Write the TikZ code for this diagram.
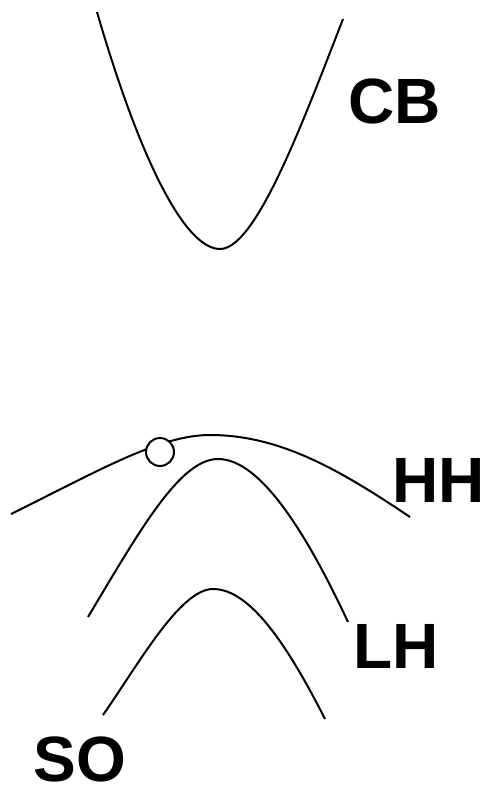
\documentclass[tikz,border=0pt]{standalone}
\usepackage{fontspec}
\setmainfont{Liberation Sans}
\usetikzlibrary{positioning}

\begin{document}
\begin{tikzpicture}[
    x=0.5pt, y=-0.5pt,
    band/.style={line width=1pt, black},
    bandlabel/.style={anchor=base west, inner sep=0pt, font=\fontsize{32}{38}\selectfont\bfseries},
    hole/.style={circle, draw, line width=1pt, fill=white, minimum size=14pt, inner sep=0pt},
]

% Canvas
\useasboundingbox (0,0) rectangle (491,793);

% Conduction band
\draw[band] (97,12) .. controls (140,160) and (185,249) .. (220,249)
    .. controls (255,249) and (300,130) .. (343,19);

% Heavy hole band
\draw[band] (11,514) .. controls (100,470) and (160,435) .. (210,435)
    .. controls (280,435) and (340,470) .. (410,517);

% Light hole band
\draw[band] (88,617) .. controls (140,530) and (180,459) .. (218,459)
    .. controls (255,459) and (298,515) .. (348,622);

% Split-off band
\draw[band] (103,715) .. controls (138,665) and (180,589) .. (213,589)
    .. controls (245,589) and (280,630) .. (325,719);

% Hole on HH
\node[hole] (h) at (160,452) {};

% Labels
\node[bandlabel] (cb) at (348,123) {CB};
\node[bandlabel] (hh) at (392,502) {HH};
\node[bandlabel] (lh) at (353,668) {LH};
\node[bandlabel] (so) at (33,781) {SO};

\end{tikzpicture}
\end{document}
